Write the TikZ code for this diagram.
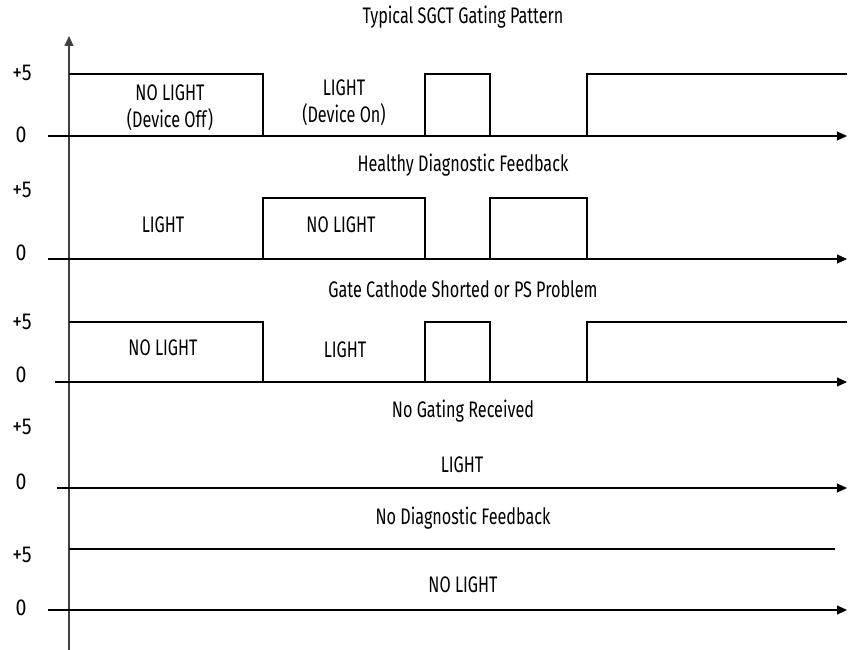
\documentclass[tikz,border=0pt]{standalone}
\usepackage{fontspec}
\setmainfont{Fira Sans}[FakeStretch=0.72]
\newfontfamily\levelfont{Fira Sans}[FakeStretch=0.85]
\usepackage{tikz}
\usetikzlibrary{arrows.meta}

% one gating waveform: #1 = high level, #2 = low level
\newcommand{\gatewave}[2]{%
  \draw[wave] (69,#1) -- (263,#1) -- (263,#2);
  \draw[wave] (425,#2) -- (425,#1) -- (490,#1) -- (490,#2);
  \draw[wave] (587,#2) -- (587,#1) -- (847,#1);
}

\begin{document}
\begin{tikzpicture}[x=1pt,y=-1pt,
    axis/.style={line width=1.1pt,-{Triangle[length=10pt,width=9pt]}},
    wave/.style={line width=1.1pt},
    lbl/.style={font=\fontsize{22.5}{26}\selectfont,inner sep=0pt,align=center},
    lvl/.style={font=\levelfont\fontsize{23}{26}\selectfont,inner sep=0pt}]
    \useasboundingbox (0,0) rectangle (849,650);

    % vertical axis
    \coordinate (bot) at (69,650);
    \coordinate (top) at (69,36);
    \draw[axis,black!75] (bot) -- (top);

    % time axes
    \foreach \y/\s [count=\i] in {136/48,259/48,382/55,488/57,610/48} {
      \coordinate (s\i) at (\s,\y);
      \coordinate (e\i) at (847,\y);
      \draw[axis] (s\i) -- (e\i);
    }

    % waveforms
    \gatewave{74}{136}
    \draw[wave] (263,259) -- (263,198) -- (425,198) -- (425,259);
    \draw[wave] (490,259) -- (490,198) -- (587,198) -- (587,259);
    \gatewave{322}{382}
    \coordinate (h5) at (69,549);
    \coordinate (k5) at (835,549);
    \draw[wave] (h5) -- (k5);

    % level labels
    \foreach \p/\z [count=\i] in {73/135,190/253,322/375,427/482,555/608} {
      \node[lvl] (p\i) at (22,\p) {+5};
      \node[lvl] (z\i) at (21,\z) {0};
    }

    % titles
    \node[lbl] (t1) at (463,17)  {Typical SGCT Gating Pattern};
    \node[lbl] (t2) at (463,165) {Healthy Diagnostic Feedback};
    \node[lbl] (t3) at (463,289) {Gate Cathode Shorted or PS Problem};
    \node[lbl] (t4) at (463,411) {No Gating Received};
    \node[lbl] (t5) at (463,518) {No Diagnostic Feedback};

    % light states
    \node[lbl] (a1) at (170,93)  {NO LIGHT};
    \node[lbl] (a2) at (170,120) {(Device Off)};
    \node[lbl] (b1) at (344,88)  {LIGHT};
    \node[lbl] (b2) at (344,115) {(Device On)};
    \node[lbl] (c1) at (163,225) {LIGHT};
    \node[lbl] (c2) at (341,225) {NO LIGHT};
    \node[lbl] (d1) at (163,348) {NO LIGHT};
    \node[lbl] (d2) at (345,350) {LIGHT};
    \node[lbl] (f1) at (462,465) {LIGHT};
    \node[lbl] (g1) at (463,585) {NO LIGHT};
\end{tikzpicture}
\end{document}
